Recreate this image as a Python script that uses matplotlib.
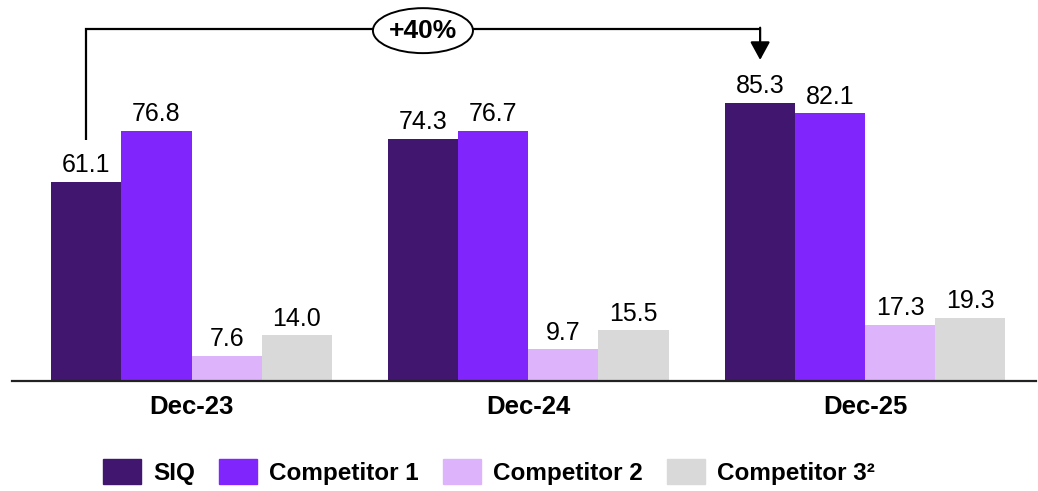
import matplotlib
matplotlib.use("Agg")
import matplotlib.pyplot as plt
import numpy as np
from matplotlib.patches import Ellipse, Rectangle, FancyArrowPatch

plt.rcParams['font.family'] = ['Liberation Sans', 'DejaVu Sans']

categories = ["Dec-23", "Dec-24", "Dec-25"]
series = ["SIQ", "Competitor 1", "Competitor 2", "Competitor 3\u00b2"]
siq = [61.1, 74.3, 85.3]
comp1 = [76.8, 76.7, 82.1]
comp2 = [7.6, 9.7, 17.3]
comp3 = [14.0, 15.5, 19.3]
growth_label = "+40%"

colors = ["#41166f", "#8026fc", "#ddb4fc", "#d9d9d9"]
values = [siq, comp1, comp2, comp3]

W, H = 1038, 491
fig = plt.figure(figsize=(W / 100, H / 100), dpi=100)
ax = fig.add_axes([12 / W, (H - 381) / H, (1036 - 12) / W, 381 / H])

x = np.arange(len(categories))
bw = 0.208
offsets = (np.arange(4) - 1.5) * bw
for i, (vals, col) in enumerate(zip(values, colors)):
    bars = ax.bar(x + offsets[i], vals, width=bw, color=col, edgecolor='none', zorder=2)
    for b, v in zip(bars, vals):
        ax.text(b.get_x() + b.get_width() / 2, v + 3.0, f"{v:.1f}", ha='center', va='baseline',
                fontsize=18, color='black')

ax.set_xlim(-0.533, 2.507)
ax.set_ylim(0, 116.9)
for s in ['top', 'right', 'left']:
    ax.spines[s].set_visible(False)
ax.spines['bottom'].set_linewidth(1.6)
ax.spines['bottom'].set_color('#222222')
ax.set_yticks([])
ax.set_xticks(x)
ax.set_xticklabels(categories, fontsize=18.5, fontweight='bold')
ax.tick_params(axis='x', length=0, pad=10)

# bracket
x1 = x[0] + offsets[0]
x2 = x[2] + offsets[0]
ytop = 108.0
ax.plot([x1, x1, x2], [siq[0] + 12.8, ytop, ytop], color='black', lw=1.6,
        clip_on=False, solid_capstyle='butt', solid_joinstyle='miter', zorder=3)
arr = FancyArrowPatch((x2, ytop + 0.4), (x2, siq[2] + 13.2),
                      arrowstyle='-|>,head_length=0.55,head_width=0.3',
                      mutation_scale=20, color='black', lw=1.6,
                      shrinkA=0, shrinkB=0, clip_on=False, zorder=3)
ax.add_patch(arr)
ex = 0.687
ell = Ellipse((ex, 107.5), width=0.297, height=13.8, facecolor='white',
              edgecolor='black', lw=1.4, clip_on=False, zorder=4)
ax.add_patch(ell)
ax.text(ex, 107.5, growth_label, ha='center', va='center', fontsize=19,
        fontweight='bold', zorder=5)

# legend
handles = [Rectangle((0, 0), 1, 1, color=c) for c in colors]
leg = fig.legend(handles, series, loc='center', bbox_to_anchor=(489 / W, 1 - 472 / H),
                 ncol=4, frameon=False, prop={'weight': 'bold', 'size': 17.5},
                 handlelength=1.56, handleheight=1.2, handletextpad=0.5, columnspacing=1.0)

fig.savefig("out.png", dpi=100)
